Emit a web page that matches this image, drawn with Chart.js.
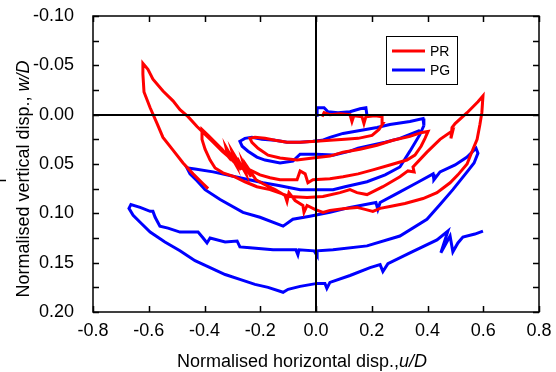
<!DOCTYPE html>
<html>
<head>
<meta charset="utf-8">
<script src="https://cdn.jsdelivr.net/npm/chart.js@4.4.1/dist/chart.umd.min.js"></script>
<style>
  html, body { margin: 0; padding: 0; background: #fff; }
  canvas { display: block; }
</style>
</head>
<body>
<canvas id="loops" width="556" height="372"></canvas>
<script>
// axis ticks
const xTicks = [-0.8, -0.6, -0.4, -0.2, 0, 0.2, 0.4, 0.6, 0.8];
const yTicks = [-0.1, -0.05, 0, 0.05, 0.1, 0.15, 0.2];

// PR (red) - one continuous trace
const prX = [
  -0.387, -0.405, -0.441, -0.477, -0.513, -0.549, -0.570, -0.595, -0.617, -0.621, -0.621, -0.603, -0.585, -0.549, -0.513, -0.488, -0.459, -0.427, -0.405, -0.369, -0.337, -0.308, -0.291,
  -0.298, -0.269, -0.283, -0.251, -0.262, -0.233, -0.244, -0.215,
  -0.190, -0.147, -0.111, -0.104, -0.097, -0.075, -0.047, -0.043, -0.032, -0.004, 0.025, 0.050, 0.104, 0.147, 0.176, 0.204, 0.230, 0.265, 0.319, 0.384, 0.434, 0.481, 0.509, 0.542, 0.563, 0.578, 0.588, 0.595, 0.599,
  0.581, 0.542, 0.499, 0.488, 0.484, 0.491, 0.445, 0.398, 0.348, 0.352, 0.330, 0.301, 0.240, 0.183, 0.147, 0.122, 0.086, 0.025, -0.032, -0.093, -0.165, -0.212, -0.255, -0.291, -0.334, -0.362, -0.380, -0.398, -0.409, -0.409,
  -0.387, -0.362, -0.337, -0.316, -0.323, -0.287, -0.301, -0.265, -0.237, -0.201, -0.165, -0.129, -0.068, -0.057, -0.039, -0.029, -0.011, 0.050, 0.097, 0.151, 0.204, 0.265, 0.326, 0.355, 0.377, 0.391, 0.402,
  0.380, 0.337, 0.276, 0.219, 0.158, 0.097, 0.050, -0.011, -0.068, -0.129, -0.172, -0.208, -0.230, -0.237, -0.219, -0.183, -0.147, -0.104, -0.057, 0, 0.050, 0.104, 0.151, 0.201, 0.226, 0.240, 0.237, 0.212, 0.179, 0.172, 0.165, 0.136, 0.129, 0.122, 0.086, 0.050, 0.029, 0.022,
];
const prY = [
  0.075, 0.070, 0.060, 0.049, 0.036, 0.023, 0.009, -0.007, -0.023, -0.041, -0.052, -0.046, -0.036, -0.024, -0.014, -0.005, 0.002, 0.012, 0.018, 0.028, 0.037, 0.044, 0.049,
  0.041, 0.056, 0.044, 0.060, 0.048, 0.063, 0.054, 0.066,
  0.070, 0.076, 0.082, 0.088, 0.079, 0.087, 0.092, 0.099, 0.092, 0.096, 0.099, 0.097, 0.095, 0.094, 0.096, 0.098, 0.095, 0.093, 0.090, 0.085, 0.079, 0.069, 0.061, 0.050, 0.035, 0.025, 0.010, -0.002, -0.019,
  -0.013, -0.002, 0.009, 0.013, 0.024, 0.016, 0.025, 0.038, 0.053, 0.058, 0.057, 0.063, 0.073, 0.081, 0.079, 0.076, 0.079, 0.083, 0.084, 0.083, 0.076, 0.073, 0.068, 0.063, 0.059, 0.054, 0.046, 0.035, 0.025, 0.015,
  0.021, 0.028, 0.035, 0.042, 0.033, 0.051, 0.037, 0.054, 0.056, 0.061, 0.064, 0.066, 0.066, 0.057, 0.060, 0.069, 0.066, 0.065, 0.063, 0.060, 0.056, 0.051, 0.046, 0.041, 0.032, 0.024, 0.017,
  0.018, 0.022, 0.026, 0.031, 0.035, 0.038, 0.042, 0.044, 0.046, 0.044, 0.041, 0.034, 0.028, 0.024, 0.023, 0.024, 0.026, 0.028, 0.028, 0.027, 0.026, 0.025, 0.024, 0.021, 0.015, 0.009, 0.002, 0.001, 0.002, 0.009, 0.002, 0.001, 0.007, 0, -0.001, 0, -0.002, 0.002,
];

// PG (blue) - small squiggle near the origin
const pgTopX = [0.004, 0.004, 0.029, 0.043, 0.079, 0.122, 0.158, 0.179, 0.183];
const pgTopY = [0.002, -0.007, -0.007, -0.003, -0.002, -0.003, -0.006, -0.007, 0.001];

// PG (blue) - main spiral
const pgX = [
  0.373, 0.301, 0.248, 0.183, 0.151, 0.122, 0.061, 0, -0.057, -0.083, -0.129, -0.183, -0.212, -0.244, -0.265, -0.273,
  -0.255, -0.230, -0.194, -0.147, -0.104, -0.057, -0.011, 0.022, 0.050, 0.097, 0.158, 0.219, 0.265, 0.337, 0.384,
  0.387, 0.373, 0.337, 0.301, 0.248, 0.183, 0.104, 0.061, 0, -0.057, -0.129, -0.190, -0.273, -0.369, -0.434, -0.463,
  -0.452, -0.427, -0.398, -0.344, -0.262, -0.201, -0.118, -0.083, -0.022, 0.050, 0.122, 0.215, 0.222, 0.230, 0.283, 0.362, 0.420, 0.423, 0.445, 0.499, 0.542, 0.574, 0.581,
  0.567, 0.542, 0.491, 0.445, 0.398, 0.301, 0.183, 0.061, 0.004, 0.004, -0.007, -0.061, -0.065, -0.072, -0.154, -0.237, -0.273, -0.283, -0.326, -0.380, -0.391, -0.405, -0.423, -0.488, -0.531, -0.560, -0.577, -0.585, -0.595, -0.631, -0.664, -0.671,
  -0.656, -0.631, -0.595, -0.542, -0.488, -0.434, -0.380, -0.326, -0.273, -0.219, -0.172, -0.118, -0.100, -0.057, 0.004, 0.032, 0.039, 0.050, 0.122, 0.194, 0.230, 0.240, 0.258, 0.337, 0.434, 0.473, 0.448, 0.481, 0.491, 0.509, 0.527, 0.570, 0.599,
];
const pgY = [
  0.016, 0.024, 0.028, 0.032, 0.034, 0.037, 0.041, 0.040, 0.040, 0.047, 0.049, 0.046, 0.043, 0.037, 0.032, 0.027,
  0.024, 0.023, 0.025, 0.026, 0.028, 0.028, 0.027, 0.026, 0.023, 0.019, 0.016, 0.013, 0.010, 0.007, 0.004,
  0.011, 0.020, 0.037, 0.053, 0.061, 0.068, 0.073, 0.076, 0.076, 0.076, 0.072, 0.069, 0.064, 0.058, 0.055, 0.054,
  0.060, 0.067, 0.076, 0.086, 0.099, 0.104, 0.113, 0.106, 0.103, 0.099, 0.094, 0.089, 0.096, 0.089, 0.081, 0.069, 0.060, 0.066, 0.058, 0.051, 0.043, 0.034, 0.039,
  0.049, 0.058, 0.076, 0.091, 0.106, 0.123, 0.133, 0.137, 0.138, 0.143, 0.138, 0.137, 0.142, 0.137, 0.137, 0.135, 0.134, 0.128, 0.129, 0.125, 0.130, 0.125, 0.119, 0.119, 0.115, 0.113, 0.104, 0.098, 0.098, 0.094, 0.091, 0.095,
  0.102, 0.109, 0.119, 0.129, 0.138, 0.148, 0.155, 0.162, 0.167, 0.172, 0.175, 0.180, 0.177, 0.174, 0.171, 0.171, 0.176, 0.170, 0.163, 0.155, 0.152, 0.159, 0.151, 0.140, 0.127, 0.118, 0.140, 0.123, 0.139, 0.130, 0.124, 0.121, 0.118,
];

const RED = "#ff0000";
const BLUE = "#0000ff";
const FONT = "Arial, 'Liberation Sans', sans-serif";

const toPoints = (xs, ys) => xs.map((v, i) => ({ x: v, y: ys[i] }));

const legendItems = [
  { label: "PR", color: RED },
  { label: "PG", color: BLUE },
];

// frame, inward ticks, zero lines, legend, axis titles
const decorations = {
  id: "decorations",
  afterDatasetsDraw(chart) {
    const { ctx, chartArea: a, scales: { x, y } } = chart;
    ctx.save();
    ctx.strokeStyle = "#000";

    // zero lines
    ctx.lineWidth = 2;
    const x0 = Math.round(x.getPixelForValue(0));
    const y0 = Math.round(y.getPixelForValue(0));
    ctx.beginPath();
    ctx.moveTo(x0, a.top);
    ctx.lineTo(x0, a.bottom);
    ctx.moveTo(a.left, y0);
    ctx.lineTo(a.right, y0);
    ctx.stroke();

    // frame
    ctx.lineWidth = 1.5;
    ctx.strokeRect(a.left, a.top, a.right - a.left, a.bottom - a.top);

    // ticks (inward, mirrored)
    const tl = 6;
    ctx.beginPath();
    xTicks.forEach((v) => {
      const px = Math.round(x.getPixelForValue(v)) + 0.5;
      ctx.moveTo(px, a.bottom);
      ctx.lineTo(px, a.bottom - tl);
      ctx.moveTo(px, a.top);
      ctx.lineTo(px, a.top + tl);
    });
    for (let i = 0; i < yTicks.length * 2 - 1; i++) {
      const v = yTicks[0] + i * 0.025;
      const py = Math.round(y.getPixelForValue(v)) + 0.5;
      ctx.moveTo(a.left, py);
      ctx.lineTo(a.left + tl, py);
      ctx.moveTo(a.right, py);
      ctx.lineTo(a.right - tl, py);
    }
    ctx.stroke();
    ctx.restore();
  },
  afterDraw(chart) {
    const { ctx, chartArea: a } = chart;
    ctx.save();

    // legend box
    const lx = a.right - 153, ly = a.top + 20, lw = 71, lh = 48;
    ctx.fillStyle = "#fff";
    ctx.fillRect(lx, ly, lw, lh);
    ctx.strokeStyle = "#000";
    ctx.lineWidth = 1;
    ctx.strokeRect(lx + 0.5, ly + 0.5, lw, lh);
    ctx.font = "14px " + FONT;
    ctx.textBaseline = "middle";
    legendItems.forEach((item, i) => {
      const cy = ly + 15 + i * 19;
      ctx.strokeStyle = item.color;
      ctx.lineWidth = 3;
      ctx.beginPath();
      ctx.moveTo(lx + 6, cy);
      ctx.lineTo(lx + 39, cy);
      ctx.stroke();
      ctx.fillStyle = "#000";
      ctx.fillText(item.label, lx + 44, cy + 1);
    });

    // axis titles with italic part
    const drawTitle = (plain, ital, cx, baseY) => {
      ctx.font = "18px " + FONT;
      const w1 = ctx.measureText(plain).width;
      ctx.font = "italic 18px " + FONT;
      const w2 = ctx.measureText(ital).width;
      const start = cx - (w1 + w2) / 2;
      ctx.fillStyle = "#000";
      ctx.textBaseline = "alphabetic";
      ctx.textAlign = "left";
      ctx.font = "18px " + FONT;
      ctx.fillText(plain, start, baseY);
      ctx.font = "italic 18px " + FONT;
      ctx.fillText(ital, start + w1, baseY);
    };
    drawTitle("Normalised horizontal disp.,", "u/D", 302, 367);
    ctx.save();
    ctx.translate(29, 179);
    ctx.rotate(-Math.PI / 2);
    drawTitle("Normalised vertical disp., ", "w/D", 0, 0);
    ctx.restore();

    // small stray dash at the left edge
    ctx.strokeStyle = "#000";
    ctx.lineWidth = 1.5;
    ctx.beginPath();
    ctx.moveTo(0, 180.5);
    ctx.lineTo(6, 180.5);
    ctx.stroke();
    ctx.restore();
  },
};

const ctxLoops = document.getElementById("loops").getContext("2d");
const loops = new Chart(ctxLoops, {
  type: "scatter",
  data: {
    datasets: [
      {
        label: "PR",
        data: toPoints(prX, prY),
        showLine: true,
        borderColor: RED,
        borderWidth: 3,
        pointRadius: 0,
        tension: 0,
      },
      {
        label: "PG",
        data: toPoints(pgTopX, pgTopY),
        showLine: true,
        borderColor: BLUE,
        borderWidth: 3,
        pointRadius: 0,
        tension: 0,
      },
      {
        label: "PG",
        data: toPoints(pgX, pgY),
        showLine: true,
        borderColor: BLUE,
        borderWidth: 3,
        pointRadius: 0,
        tension: 0,
      },
    ],
  },
  options: {
    responsive: false,
    animation: false,
    devicePixelRatio: 1,
    layout: {
      padding: { left: 0, right: 17, top: 16, bottom: 0 },
    },
    scales: {
      x: {
        type: "linear",
        min: -0.8,
        max: 0.8,
        afterFit: (s) => {
          s.height = 60;
          s.paddingLeft = 0;
          s.paddingRight = 0;
        },
        afterBuildTicks: (s) => { s.ticks = xTicks.map((v) => ({ value: v })); },
        grid: { display: false },
        border: { display: false },
        ticks: {
          color: "#000",
          padding: 0,
          font: { family: FONT, size: 18 },
          callback: (v) => v.toFixed(1),
        },
      },
      y: {
        type: "linear",
        reverse: true,
        min: -0.1,
        max: 0.2,
        afterFit: (s) => {
          s.width = 93;
          s.paddingTop = 0;
          s.paddingBottom = 0;
        },
        afterBuildTicks: (s) => { s.ticks = yTicks.map((v) => ({ value: v })); },
        grid: { display: false },
        border: { display: false },
        ticks: {
          color: "#000",
          padding: 11,
          font: { family: FONT, size: 18 },
          callback: (v) => v.toFixed(2),
        },
      },
    },
    plugins: {
      legend: { display: false },
      tooltip: { enabled: false },
    },
  },
  plugins: [decorations],
});
</script>
</body>
</html>
